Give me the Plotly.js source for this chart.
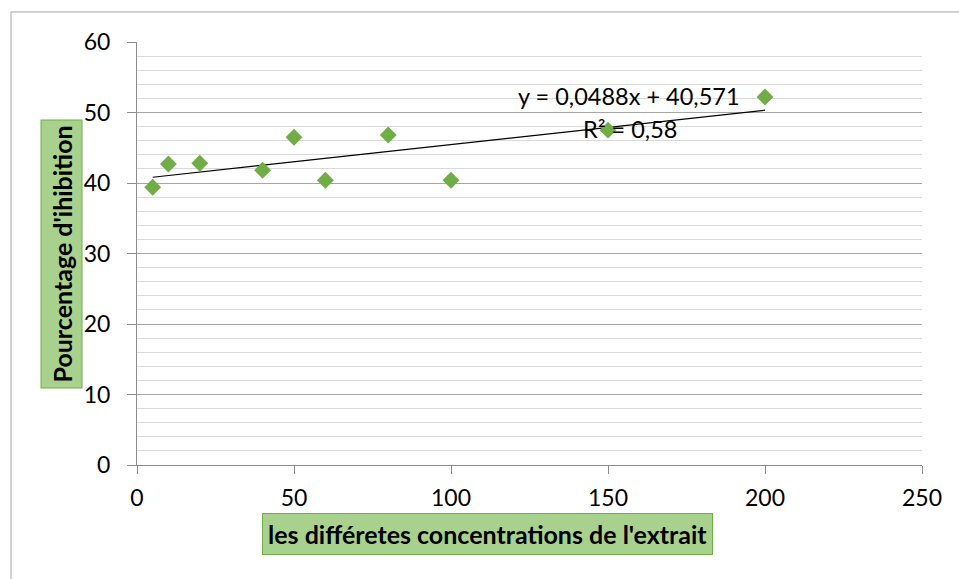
<!DOCTYPE html>
<html>
<head>
<meta charset="utf-8">
<script src="https://cdn.plot.ly/plotly-3.0.1.min.js"></script>
<style>html,body{margin:0;padding:0;background:#fff;}#chart{width:959px;height:579px;}</style>
</head>
<body>
<div id="chart"></div>
<script>
const concentrations = [5, 10, 20, 40, 50, 60, 80, 100, 150, 200];
const inhibition = [39.4, 42.7, 42.8, 41.8, 46.5, 40.4, 46.8, 40.4, 47.5, 52.2];
const trendX = [5, 200];
const trendY = [40.815, 50.331];
const xTicks = [0, 50, 100, 150, 200, 250];
const yTicks = [0, 10, 20, 30, 40, 50, 60];
const equationText = 'y = 0,0488x + 40,571';
const r2Text = 'R² = 0,58';
const xTitle = "les différetes concentrations de l'extrait";
const yTitle = "Pourcentage d'ihibition";

const font = 'Lato, Carlito, Calibri, "Liberation Sans", sans-serif';

const data = [
  {x: trendX, y: trendY, mode: 'lines', type: 'scatter',
   line: {color: '#000', width: 1.2}, hoverinfo: 'skip'},
  {x: concentrations, y: inhibition, mode: 'markers', type: 'scatter',
   marker: {symbol: 'diamond', color: '#70ad47', size: 13, line: {width: 0}}}
];

const layout = {
  width: 959, height: 579,
  margin: {l: 137, r: 37, t: 42, b: 114},
  paper_bgcolor: '#fff', plot_bgcolor: '#fff',
  showlegend: false,
  font: {family: font, size: 23, color: '#000'},
  xaxis: {
    range: [0, 250], tickvals: xTicks, ticktext: xTicks.map(String),
    showgrid: false, zeroline: false, showline: true, linecolor: '#8c8c8c', linewidth: 1,
    ticks: 'outside', ticklen: 8, tickcolor: '#8c8c8c', ticklabelstandoff: 4,
    tickfont: {family: font, size: 23, color: '#000'}
  },
  yaxis: {
    range: [0, 60], tickvals: yTicks, ticktext: yTicks.map(String),
    showgrid: true, gridcolor: '#a6a6a6', gridwidth: 1,
    minor: {dtick: 2, showgrid: true, gridcolor: '#d9d9d9', gridwidth: 1},
    zeroline: false, showline: true, linecolor: '#8c8c8c', linewidth: 1,
    ticks: 'outside', ticklen: 9, tickcolor: '#8c8c8c', ticklabelstandoff: 12,
    tickfont: {family: font, size: 23, color: '#000'}
  },
  shapes: [
    {type: 'rect', xref: 'paper', yref: 'paper', x0: -0.1605, x1: 1.2, y0: -0.5, y1: 1.071,
     line: {color: '#a6a6a6', width: 1}, fillcolor: 'rgba(0,0,0,0)', layer: 'below'}
  ],
  annotations: [
    {text: equationText, xref: 'paper', yref: 'paper', x: (629-137)/785, y: (465-96)/423,
     showarrow: false, xanchor: 'center', yanchor: 'middle',
     font: {family: font, size: 23.5, color: '#000'}},
    {text: r2Text, xref: 'paper', yref: 'paper', x: (630-137)/785, y: (465-129)/423,
     showarrow: false, xanchor: 'center', yanchor: 'middle',
     font: {family: font, size: 23.5, color: '#000'}},
    {text: '<b>' + xTitle + '</b>', xref: 'paper', yref: 'paper', x: (487-137)/785, y: (465-533.5)/423,
     showarrow: false, xanchor: 'center', yanchor: 'middle',
     bgcolor: '#a9d18e', bordercolor: '#70ad47', borderwidth: 1, borderpad: 5,
     font: {family: font, size: 25, color: '#000'}},
    {text: '<b>' + yTitle + '</b>', xref: 'paper', yref: 'paper', x: (61-137)/785, y: (465-254.5)/423,
     showarrow: false, xanchor: 'center', yanchor: 'middle', textangle: -90,
     bgcolor: '#a9d18e', bordercolor: '#70ad47', borderwidth: 1, borderpad: 5,
     font: {family: font, size: 25, color: '#000'}}
  ]
};

Plotly.newPlot('chart', data, layout, {displayModeBar: false, staticPlot: true});
</script>
</body>
</html>
